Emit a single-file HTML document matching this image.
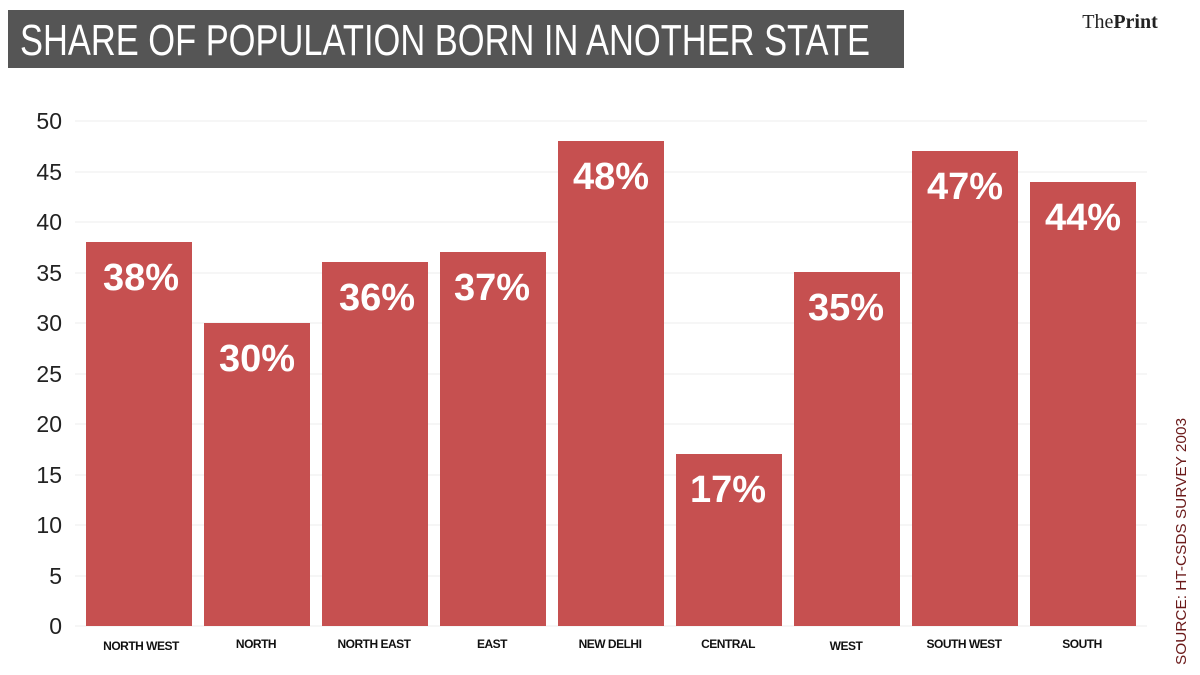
<!DOCTYPE html>
<html><head><meta charset="utf-8"><style>
html,body{margin:0;padding:0;background:#fff;}
svg{display:block;font-family:"Liberation Sans",sans-serif;}
</style></head><body>
<svg width="1200" height="675" viewBox="0 0 1200 675">
<rect x="8" y="10" width="896" height="58" fill="#555555"/>
<text x="20" y="55" fill="#fff" font-size="44" textLength="850" lengthAdjust="spacingAndGlyphs">SHARE OF POPULATION BORN IN ANOTHER STATE</text>
<text x="1120" y="28" text-anchor="middle" font-family="Liberation Serif,serif" font-size="20" fill="#222">The<tspan font-weight="bold">Print</tspan></text>
<g stroke="#eeeeee" stroke-width="1">
<line x1="75" x2="1147" y1="121" y2="121"/><line x1="75" x2="1147" y1="172" y2="172"/>
<line x1="75" x2="1147" y1="222" y2="222"/><line x1="75" x2="1147" y1="273" y2="273"/>
<line x1="75" x2="1147" y1="323" y2="323"/><line x1="75" x2="1147" y1="374" y2="374"/>
<line x1="75" x2="1147" y1="424" y2="424"/><line x1="75" x2="1147" y1="475" y2="475"/>
<line x1="75" x2="1147" y1="525" y2="525"/><line x1="75" x2="1147" y1="576" y2="576"/>
<line x1="75" x2="1147" y1="626" y2="626"/>
</g>
<g font-size="23" fill="#222" text-anchor="end">
<text x="62" y="129">50</text><text x="62" y="180">45</text><text x="62" y="230">40</text>
<text x="62" y="281">35</text><text x="62" y="331">30</text><text x="62" y="382">25</text>
<text x="62" y="432">20</text><text x="62" y="483">15</text><text x="62" y="533">10</text>
<text x="62" y="584">5</text><text x="62" y="634">0</text>
</g>
<g fill="#c65050">
<rect x="86" y="242" width="106" height="384"/>
<rect x="204" y="323" width="106" height="303"/>
<rect x="322" y="262" width="106" height="364"/>
<rect x="440" y="252" width="106" height="374"/>
<rect x="558" y="141" width="106" height="485"/>
<rect x="676" y="454" width="106" height="172"/>
<rect x="794" y="272" width="106" height="354"/>
<rect x="912" y="151" width="106" height="475"/>
<rect x="1030" y="182" width="106" height="444"/>
</g>
<g fill="#fff" font-size="38" font-weight="bold" text-anchor="middle">
<text x="141" y="290">38%</text><text x="257" y="371">30%</text><text x="377" y="310">36%</text>
<text x="492" y="300">37%</text><text x="611" y="189">48%</text><text x="728" y="502">17%</text>
<text x="846" y="320">35%</text><text x="965" y="199">47%</text><text x="1083" y="230">44%</text>
</g>
<g fill="#111" font-size="12" font-weight="bold" text-anchor="middle" letter-spacing="-0.5">
<text x="141" y="650">NORTH WEST</text><text x="256" y="648">NORTH</text><text x="374" y="648">NORTH EAST</text>
<text x="492" y="648">EAST</text><text x="610" y="648">NEW DELHI</text><text x="728" y="648">CENTRAL</text>
<text x="846" y="650">WEST</text><text x="964" y="648">SOUTH WEST</text><text x="1082" y="648">SOUTH</text>
</g>
<text transform="translate(1186,665) rotate(-90)" font-size="15" fill="#6b1a1a" textLength="247" lengthAdjust="spacingAndGlyphs">SOURCE: HT-CSDS SURVEY 2003</text>
</svg>
</body></html>
